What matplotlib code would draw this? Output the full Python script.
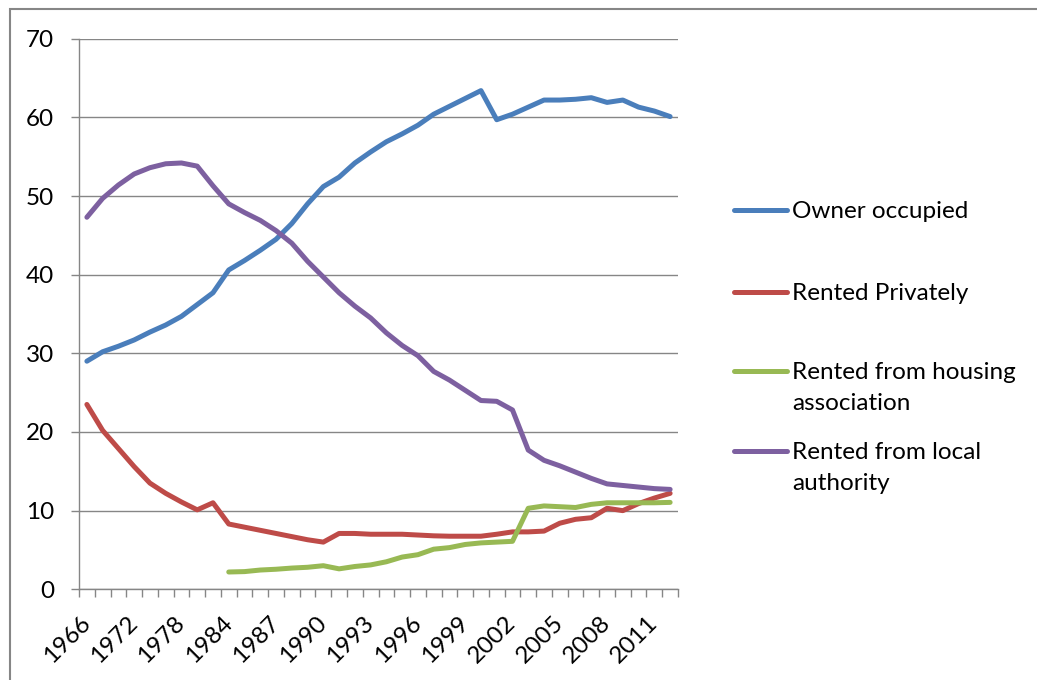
import matplotlib
matplotlib.use("Agg")
import matplotlib.pyplot as plt
from matplotlib.lines import Line2D
from matplotlib.patches import Rectangle
import numpy as np

plt.rcParams['font.family'] = ['Lato', 'DejaVu Sans']

years = [1966, 1968, 1970, 1972, 1974, 1976, 1978, 1980, 1982, 1984,
         1985, 1986, 1987, 1988, 1989, 1990, 1991, 1992, 1993, 1994,
         1995, 1996, 1997, 1998, 1999, 2000, 2001, 2002, 2003, 2004,
         2005, 2006, 2007, 2008, 2009, 2010, 2011, 2012]

owner_occupied = [29.0, 30.2, 30.9, 31.7, 32.7, 33.6, 34.7, 36.2, 37.7, 40.6,
                  41.8, 43.1, 44.5, 46.5, 49.0, 51.2, 52.4, 54.2, 55.6, 56.9,
                  57.9, 59.0, 60.4, 61.4, 62.4, 63.4, 59.7, 60.4, 61.3, 62.2,
                  62.2, 62.3, 62.5, 61.9, 62.2, 61.3, 60.8, 60.1]

rented_privately = [23.5, 20.2, 17.9, 15.6, 13.5, 12.2, 11.1, 10.1, 11.0, 8.3,
                    7.9, 7.5, 7.1, 6.7, 6.3, 6.0, 7.1, 7.1, 7.0, 7.0,
                    7.0, 6.9, 6.8, 6.75, 6.75, 6.75, 7.0, 7.3, 7.3, 7.4,
                    8.4, 8.9, 9.1, 10.3, 10.0, 10.9, 11.6, 12.2]

housing_association = [None] * 9 + [
    2.2, 2.25, 2.45, 2.55, 2.7, 2.8, 3.0, 2.6, 2.9, 3.1, 3.5,
    4.1, 4.4, 5.1, 5.3, 5.7, 5.9, 6.0, 6.1, 10.3, 10.6,
    10.5, 10.4, 10.8, 11.0, 11.0, 11.0, 11.0, 11.05]

local_authority = [47.3, 49.7, 51.4, 52.8, 53.6, 54.1, 54.2, 53.8, 51.3, 49.0,
                   47.9, 46.9, 45.6, 44.0, 41.7, 39.7, 37.7, 36.0, 34.5, 32.6,
                   31.0, 29.7, 27.7, 26.6, 25.3, 24.0, 23.9, 22.8, 17.7, 16.4,
                   15.7, 14.9, 14.1, 13.4, 13.2, 13.0, 12.8, 12.7]

series_names = ["Owner occupied", "Rented Privately",
                "Rented from housing\nassociation", "Rented from local\nauthority"]
colors = ["#4A7EBB", "#BE4B48", "#98B954", "#7D60A0"]

W, H = 1037, 680
fig = plt.figure(figsize=(W / 100, H / 100), dpi=100)

def fx(px):
    return px / W

def fy(py):
    return 1 - py / H

# outer chart border (left and top only visible)
fig.add_artist(Rectangle((fx(10), fy(700)), fx(1100), fy(9) - fy(700),
                         transform=fig.transFigure, fill=False,
                         edgecolor="#868686", lw=1.5))

ax = fig.add_axes([fx(79), fy(589.3), fx(678) - fx(79), fy(38.7) - fy(589.3)])

x = np.arange(len(years))
gray = "#868686"
for vals, c in zip([owner_occupied, rented_privately, housing_association, local_authority], colors):
    arr = np.array([np.nan if v is None else v for v in vals], dtype=float)
    ax.plot(x, arr, color=c, lw=3.6, solid_capstyle='round', solid_joinstyle='round', zorder=3)

ax.set_xlim(-0.5, len(years) - 0.5)
ax.set_ylim(0, 70)
ax.set_yticks(range(0, 71, 10))
ax.yaxis.grid(True, color=gray, lw=1.0)
ax.set_axisbelow(True)

for s in ["top", "right"]:
    ax.spines[s].set_visible(False)
for s in ["left", "bottom"]:
    ax.spines[s].set_color(gray)
    ax.spines[s].set_linewidth(1.0)

major = list(range(0, len(years), 3))
ax.set_xticks(major)
ax.set_xticklabels([str(years[i]) for i in major], rotation=45,
                   ha='right', va='center', rotation_mode='anchor')
ax.set_xticks(np.arange(-0.5, len(years), 1.0), minor=True)
ax.tick_params(axis='x', which='major', length=0, pad=22, labelsize=17.5)
ax.tick_params(axis='x', which='minor', length=6, width=1.0, color=gray, direction='out')
ax.tick_params(axis='y', length=6, width=1.0, color=gray, direction='out', pad=12, labelsize=17.5)

# legend drawn manually
legend_rows = [210, 291.7, 370.7, 450.7]
for y1, name, c in zip(legend_rows, series_names, colors):
    fig.add_artist(Line2D([fx(734), fx(787)], [fy(y1), fy(y1)], color=c, lw=3.6,
                          solid_capstyle='round', transform=fig.transFigure))
    fig.text(fx(792), fy(y1 - 9), name, fontsize=17.5, va='top', ha='left',
             linespacing=1.6, transform=fig.transFigure)

fig.savefig("out.png", dpi=100)
